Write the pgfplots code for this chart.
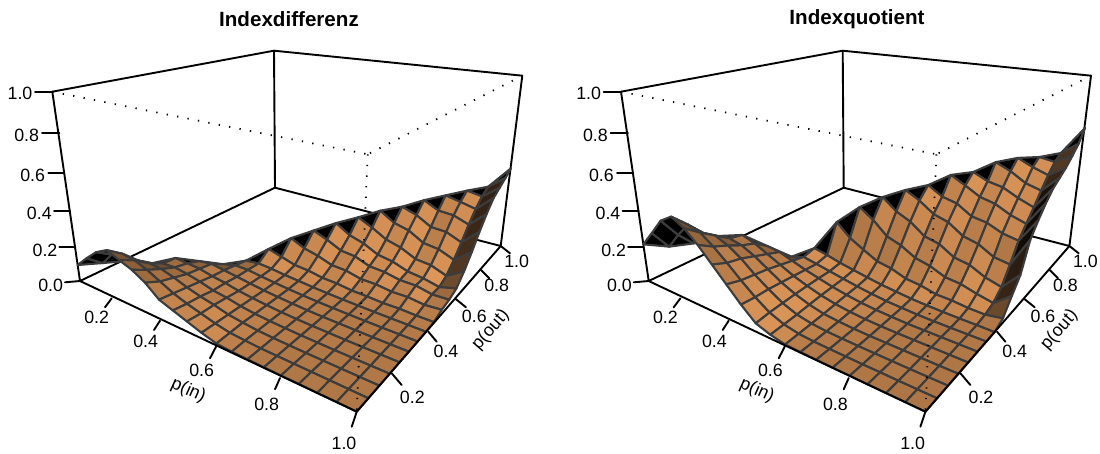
\documentclass[border=0pt]{standalone}
\usepackage{fontspec}
\setmainfont{Liberation Sans}
\usepackage{pgfplots}
\pgfplotsset{compat=1.18}
\definecolor{facet}{RGB}{60,60,60}
\pgfplotsset{colormap={persp}{rgb255(0cm)=(0,0,0); rgb255(1cm)=(224,152,90)}}
\newcommand\setrows[2]{%
 \foreach \row [count=\j] in {#2} {%
   \foreach \v [count=\k] in \row {%
      \pgfmathtruncatemacro\i{\j+\k-1}%
      \expandafter\xdef\csname #1-\i-\j\endcsname{\v}%
   }}}
\newcommand\Z[3]{\csname #1-#2-#3\endcsname}
\newcommand\build[1]{%
 \foreach \i in {1,...,20}{\foreach \j in {1,...,\i}{%
  \edef\zz{\Z{#1}{\i}{\j}}%
  \pgfmathsetmacro\uu{(\i-1)/19}\pgfmathsetmacro\vv{(\j-1)/19}%
  \pgfmathsetmacro\dd{1-0.2919*\uu+0.4122*\vv-0.1125*\zz}%
  \pgfmathsetmacro\xx{(80+172.6*\uu+308.4*\vv-33.6*\zz)/\dd}%
  \pgfmathsetmacro\yy{(281+10.5*\uu-15.9*\vv-199.6*\zz)/\dd}%
  \expandafter\xdef\csname #1P-\i-\j\endcsname{(\xx,\yy)}%
 }}%
 \gdef\acc{}%
 \foreach \i in {1,...,19}{\foreach \j in {\i,...,1}{%
  \pgfmathtruncatemacro\ip{\i+1}\pgfmathtruncatemacro\jp{\j+1}%
  \ifnum\j=\i\relax
    \xdef\acc{\acc \Z{#1P}{\i}{\i} [0] \Z{#1P}{\ip}{\i} [0] \Z{#1P}{\ip}{\ip} [0] \Z{#1P}{\ip}{\ip} [0] }%
  \else
    \edef\za{\Z{#1}{\i}{\j}}\edef\zb{\Z{#1}{\ip}{\j}}\edef\zc{\Z{#1}{\ip}{\jp}}\edef\zd{\Z{#1}{\i}{\jp}}%
    \pgfmathsetmacro\gu{(\zb+\zc-\za-\zd)*9.5}%
    \pgfmathsetmacro\gv{(\zc+\zd-\za-\zb)*9.5}%
    \pgfmathsetmacro\m{max(0,min(1,0.18+0.82*(-0.6*\gu+0.35*\gv+0.72)/sqrt(\gu*\gu+\gv*\gv+1)))}%
    \xdef\acc{\acc \Z{#1P}{\i}{\j} [\m] \Z{#1P}{\ip}{\j} [\m] \Z{#1P}{\ip}{\jp} [\m] \Z{#1P}{\i}{\jp} [\m] }%
  \fi
 }}%
 \global\expandafter\let\csname coords#1\endcsname\acc
}
% z values: row j = p(out) index, entries i = j..20 (p(in) index), p = 0.05*index
\setrows{A}{%
{.094,.16,.22,.257,.23,.205,.165,.105,.08,.055,.03,.01,.005,.004,.003,.002,.002,.001,.001,0},
{.094,.17,.20,.19,.165,.13,.095,.07,.05,.03,.015,.01,.006,.005,.004,.003,.002,.001,0},
{.095,.125,.135,.13,.11,.085,.065,.05,.03,.02,.012,.008,.006,.004,.003,.002,.001,0},
{.07,.095,.10,.09,.075,.055,.045,.03,.02,.014,.01,.007,.005,.003,.002,.001,0},
{.09,.085,.08,.065,.055,.04,.03,.022,.015,.011,.008,.006,.004,.003,.002,.001},
{.06,.07,.06,.05,.04,.03,.023,.017,.012,.009,.007,.005,.003,.002,.001},
{.03,.05,.05,.04,.032,.025,.019,.014,.011,.008,.006,.004,.003,.001},
{.04,.05,.045,.036,.03,.023,.018,.014,.011,.008,.006,.004,.002},
{.10,.078,.056,.05,.036,.032,.021,.018,.012,.012,.007,.005},
{.155,.118,.099,.071,.066,.046,.044,.032,.032,.02,.025},
{.19,.159,.12,.111,.08,.074,.056,.054,.034,.035},
{.225,.176,.151,.11,.096,.066,.054,.033,.055},
{.25,.211,.164,.141,.10,.09,.056,.11},
{.28,.229,.207,.158,.146,.11,.18},
{.295,.266,.218,.212,.175,.26},
{.325,.284,.277,.245,.33},
{.345,.326,.305,.39},
{.365,.35,.42},
{.38,.45},
{.482}}
\setrows{B}{%
{.213,.30,.39,.434,.396,.335,.26,.185,.11,.045,.02,.005,.003,.002,.001,.001,0,0,0,0},
{.189,.28,.36,.34,.29,.23,.165,.105,.055,.025,.01,.005,.003,.002,.001,.001,0,0,0},
{.197,.28,.29,.26,.215,.155,.105,.06,.03,.015,.008,.005,.003,.002,.001,0,0,0},
{.229,.24,.225,.19,.145,.10,.065,.038,.02,.012,.007,.004,.003,.002,.001,0,0},
{.225,.20,.165,.13,.095,.068,.045,.028,.017,.01,.006,.004,.003,.002,.001,0},
{.15,.14,.115,.09,.07,.05,.035,.022,.014,.009,.005,.004,.003,.002,.001},
{.075,.10,.085,.07,.055,.04,.028,.018,.012,.007,.004,.003,.002,.001},
{.116,.10,.08,.065,.05,.037,.027,.018,.012,.008,.005,.003,0},
{.26,.19,.146,.105,.09,.06,.05,.03,.026,.016,.012,.025},
{.338,.285,.214,.186,.14,.12,.085,.075,.05,.03,.10},
{.387,.325,.288,.228,.208,.158,.142,.10,.075,.17},
{.419,.378,.322,.298,.243,.222,.175,.16,.32},
{.439,.392,.373,.322,.308,.272,.255,.39},
{.489,.447,.402,.383,.342,.315,.45},
{.498,.463,.447,.407,.375,.50},
{.547,.512,.463,.44,.53},
{.564,.528,.50,.56},
{.562,.55,.60},
{.578,.645},
{.714}}
\build{A}
\build{B}
\tikzset{boxl/.style={black,line width=1.9pt,line cap=round,line join=round},
 dots/.style={black,line width=1.8pt,dash pattern=on 1.3pt off 9.3pt},
 lab/.style={font=\fontsize{17.8}{19}\selectfont,text=black,inner sep=0pt}}
\pgfplotsset{panel/.style={scale only axis,hide axis,clip=false,y dir=reverse,ymin=0,ymax=454,xmin=0,
  height=454pt,point meta min=0,point meta max=1,colormap name=persp}}
\newcommand\backbox{%
 \addplot[boxl] coordinates {(52.3,91.7) (274,50.7) (522.3,75.7) (500.7,246) (275,187.7) (80,281) (52.3,91.7)};
 \addplot[boxl] coordinates {(274,50.7) (275,187.7)};
}
\newcommand\drawsurf[1]{%
 \edef\temp{\noexpand\addplot[patch,patch type=rectangle,shader=faceted,faceted color=facet,line width=2.1pt,line join=round,point meta=explicit] coordinates {\csname coords#1\endcsname};}\temp
}
\newcommand\frontbox{%
 \addplot[dots] coordinates {(52.3,91.7) (367.7,154.3)};
 \addplot[dots] coordinates {(522.3,75.7) (367.7,154.3)};
 \addplot[dots] coordinates {(367.7,154.3) (356.7,411.7)};
 \addplot[boxl] coordinates {(80,281) (356.7,411.7) (500.7,246)};
 \foreach \a/\b/\c/\d in {52.3/91.7/35/91.7,59.3/133.3/42/133.3,64/173.3/48.3/173.3,70/211/54/211,74/247.3/59.3/247.3,80/281/65/282.3,
   111.7/298.3/105/307.3,160/320.7/154/330,216/346.7/210/358.3,280/378/275/389.3,356.7/411.7/351.7/426.7,
   391.7/373.3/401.7/385,428.3/331.7/436.7/341.7,455.7/299/466/307.3,481/270/489.3/278.3,500.7/246/510/253.3}{%
   \edef\temp{\noexpand\draw[boxl] (axis cs:\a,\b) -- (axis cs:\c,\d);}\temp}
 \foreach \t/\a/\b in {1.0/20/93.3,0.8/26.7/135,0.6/32.7/175,0.4/39.3/213.3,0.2/45/250,0.0/50.7/285,
   0.2/96.7/317.3,0.4/145.7/341.7,0.6/201.7/370.7,0.8/266.7/404,1.0/344/443.3,
   0.2/412.3/397.3,0.4/446/351.7,0.6/474.3/316.7,0.8/496.7/285.7,1.0/516.7/261.7}{%
   \edef\temp{\noexpand\node[lab] at (axis cs:\a,\b) {\t};}\temp}
 \node[lab,rotate=-24] at (axis cs:188.3,390.7) {p(in)};
 \node[lab,rotate=49] at (axis cs:490.7,330) {p(out)};
}
\begin{document}
\begin{tikzpicture}[x=1pt,y=1pt]
\path[use as bounding box] (0,0) rectangle (1100,454);
\begin{axis}[panel,width=568.7pt,xmax=568.7]
 \backbox
 \drawsurf{A}
 \frontbox
 \node[font=\fontsize{20.6}{22}\selectfont\bfseries,inner sep=0pt] at (axis cs:289,19) {Indexdifferenz};
\end{axis}
\begin{axis}[panel,xshift=568.7pt,width=531.3pt,xmax=531.3]
 \backbox
 \drawsurf{B}
 \frontbox
 \node[font=\fontsize{20.6}{22}\selectfont\bfseries,inner sep=0pt] at (axis cs:288.3,19) {Indexquotient};
\end{axis}
\end{tikzpicture}
\end{document}
